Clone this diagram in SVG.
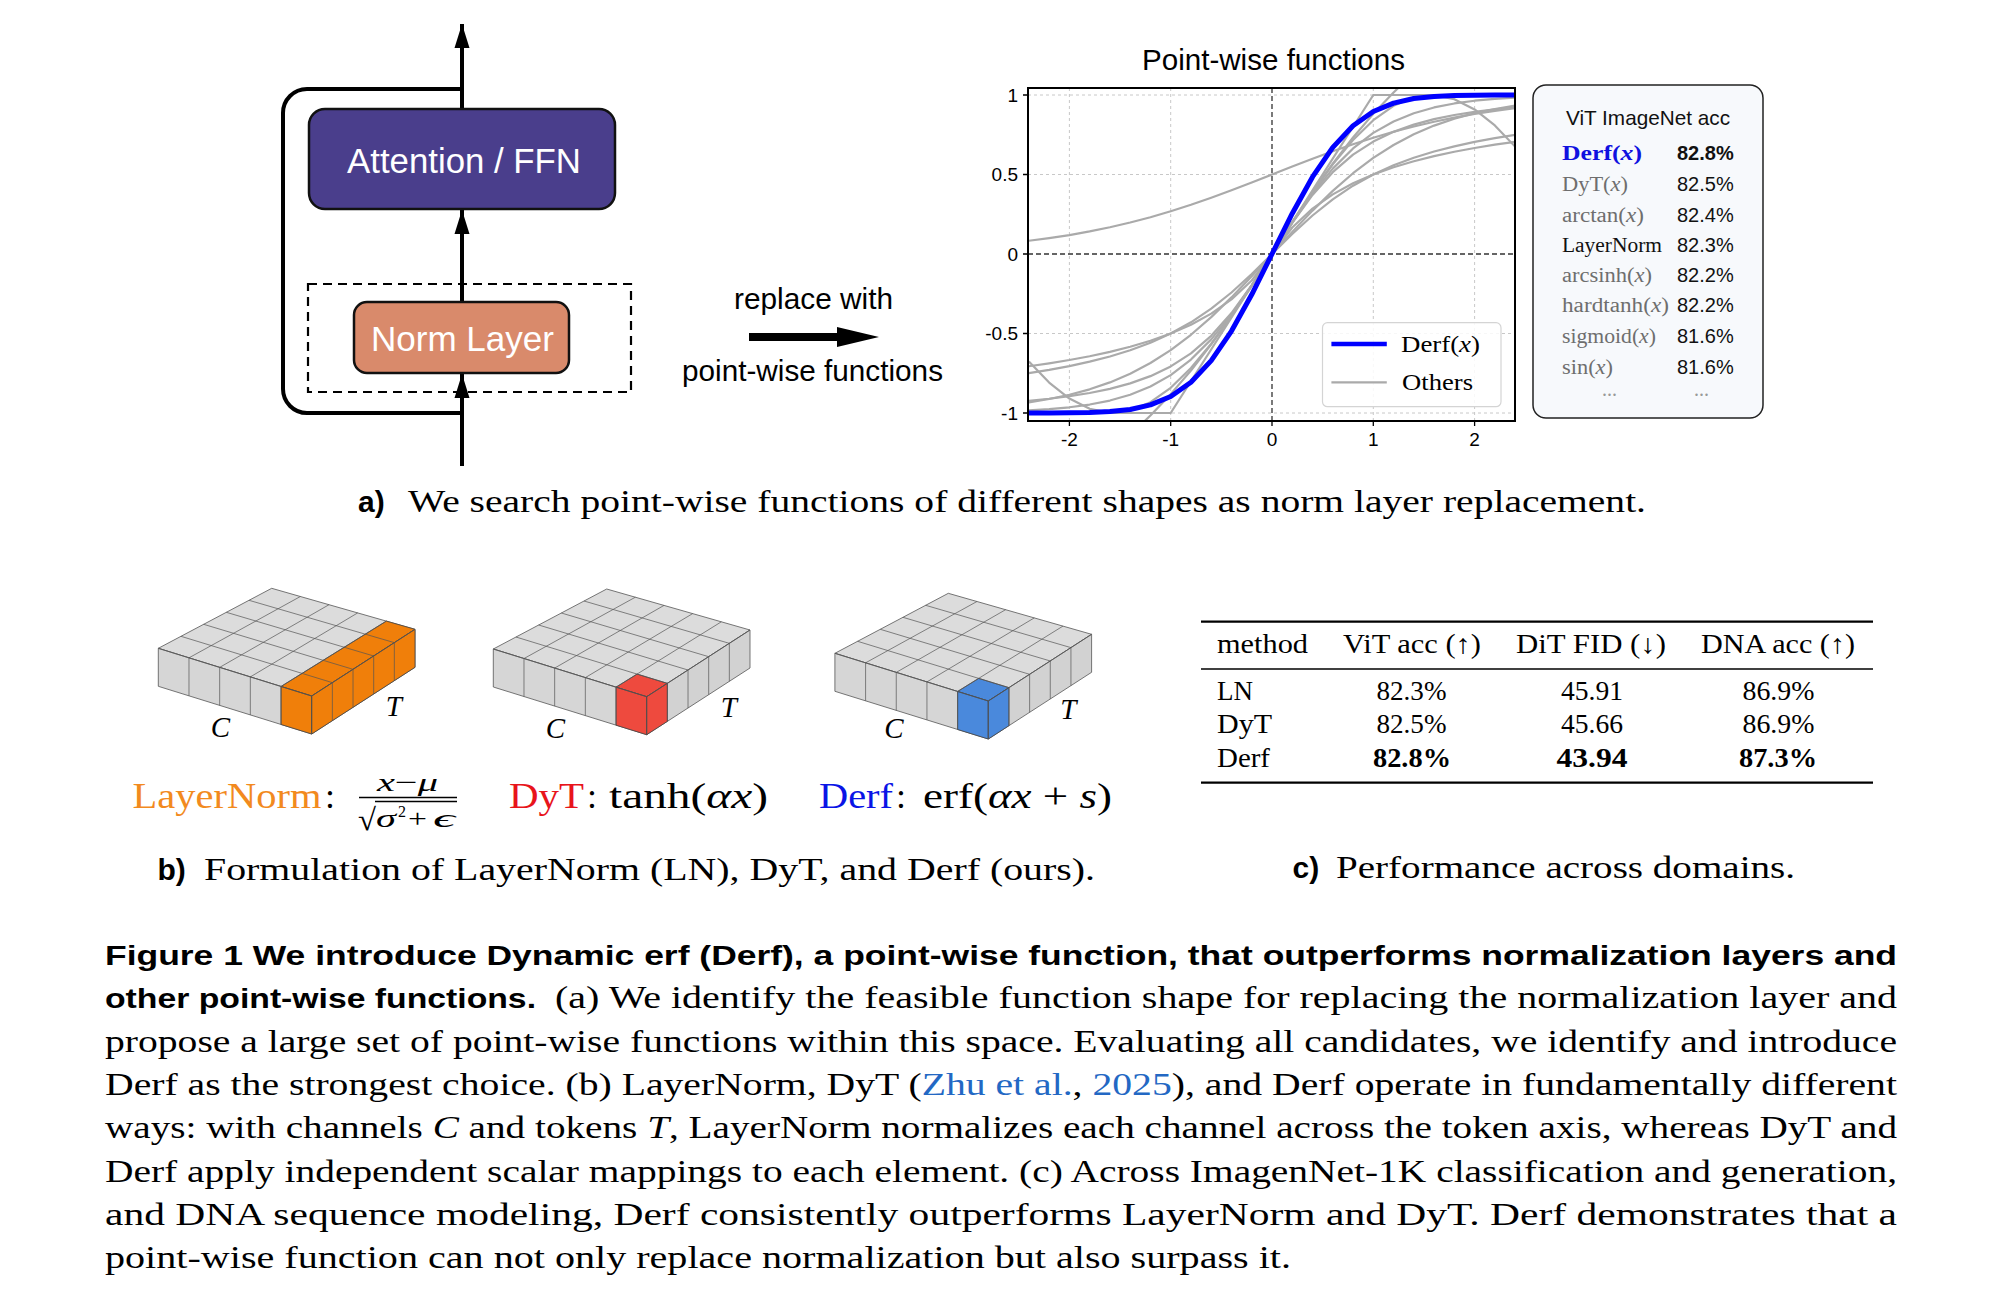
<svg xmlns="http://www.w3.org/2000/svg" width="1992" height="1310" viewBox="0 0 1992 1310">
<style>
.sans{font-family:"Liberation Sans",Arial,sans-serif}
.serif{font-family:"Liberation Serif","Times New Roman",serif}
.bold{font-weight:bold}
.it{font-style:italic}
.wline{fill:none;stroke:#000;stroke-width:4}
.box{stroke:#111;stroke-width:2.5}
.grid{stroke:#c8c8c8;stroke-width:1;stroke-dasharray:3 3}
.zero{stroke:#333;stroke-width:1.3;stroke-dasharray:5 3}
.tick{stroke:#000;stroke-width:1.3}
.ticklbl{font-family:"Liberation Sans",Arial,sans-serif;font-size:19px;fill:#000}
.gc{fill:none;stroke:#aaaaaa;stroke-width:2.2;stroke-linejoin:round}
.face{stroke:#555;stroke-width:0.8;stroke-linejoin:round}
.gl{stroke:#555;stroke-width:0.7;fill:none}
.vname{font-family:"Liberation Serif","Times New Roman",serif;font-size:20px;fill:#6e6e6e}
.vnum{font-family:"Liberation Sans",Arial,sans-serif;font-size:20px;fill:#111}
.tab{font-family:"Liberation Serif","Times New Roman",serif;font-size:27px;fill:#000}
.cap{font-family:"Liberation Serif","Times New Roman",serif;font-size:31px;fill:#000}
.capb{font-family:"Liberation Sans",Arial,sans-serif;font-size:28px;font-weight:bold;fill:#000}
.sub{font-family:"Liberation Serif","Times New Roman",serif;font-size:32px;fill:#000}
.subb{font-family:"Liberation Sans",Arial,sans-serif;font-size:30px;font-weight:bold;fill:#000}
.link{fill:#2368c4}
.lbl{font-family:"Liberation Serif","Times New Roman",serif;font-size:29px;font-style:italic;fill:#000}
.form{font-family:"Liberation Serif","Times New Roman",serif;font-size:36px;fill:#000}
.frac{font-family:"Liberation Serif","Times New Roman",serif;font-size:26px;fill:#000}
</style>
<defs>
<marker id="ah" markerUnits="userSpaceOnUse" markerWidth="26" markerHeight="16" refX="24" refY="8" orient="auto">
<path d="M0,0.5 L24,8 L0,15.5 z" fill="#000"/>
</marker>
<clipPath id="plotclip"><rect x="1028" y="88" width="487" height="333"/></clipPath>
<g id="slab">
<polygon class="face" fill="#dcdcdc" points="0,0 103.3,-66.7 -40,-107.7 -153.4,-47.7"/>
<polygon class="face" fill="#d6d6d6" points="0,0 -153.4,-47.7 -153.4,-9.7 0,38"/>
<polygon class="face" fill="#d2d2d2" points="0,0 103.3,-66.7 103.3,-28.7 0,38"/>
</g>
<g id="slabgrid">
<path class="gl" d="M-30.68,-9.54V28.46 M-61.36,-19.08V18.92 M-92.04,-28.62V9.38 M-122.72,-38.16V-0.16 M20.66,-13.34V24.66 M41.32,-26.68V11.32 M61.98,-40.02V-2.02 M82.64,-53.36V-15.36 M-30.68,-9.54L74.64,-74.9 M-61.36,-19.08L45.98,-83.1 M-92.04,-28.62L17.32,-91.3 M-122.72,-38.16L-11.34,-99.5 M20.66,-13.34L-130.72,-59.7 M41.32,-26.68L-108.04,-71.7 M61.98,-40.02L-85.36,-83.7 M82.64,-53.36L-62.68,-95.7"/>
<path class="gl" d="M0,0V38 M0,0L103.3,-66.7 M0,0L-153.4,-47.7"/>
</g>
</defs>
<rect width="1992" height="1310" fill="#fff"/>

<!-- Part a: block diagram -->
<g id="connectors">
<path class="wline" d="M462,413 H307 A24,24 0 0 1 283,389 V113 A24,24 0 0 1 307,89 H462"/>
<line class="wline" x1="462" y1="466" x2="462" y2="374" marker-end="url(#ah)"/>
<line class="wline" x1="462" y1="302" x2="462" y2="210" marker-end="url(#ah)"/>
<line class="wline" x1="462" y1="109" x2="462" y2="24" marker-end="url(#ah)"/>
</g>
<g id="norm-dashed">
<rect x="308" y="284" width="323" height="108" fill="none" stroke="#000" stroke-width="2.2" stroke-dasharray="9 6"/>
</g>
<g id="attention">
<rect class="box" x="309" y="109" width="306" height="100" rx="16" fill="#4a3e8c"/>
<text class="sans" x="347" y="173" font-size="35" fill="#fff" textLength="234" lengthAdjust="spacingAndGlyphs">Attention / FFN</text>
</g>
<g id="norm">
<rect class="box" x="354" y="302" width="215" height="71" rx="13" fill="#d98a6b"/>
<text class="sans" x="371" y="351" font-size="35" fill="#fff" textLength="183" lengthAdjust="spacingAndGlyphs">Norm Layer</text>
</g>
<g id="replace">
<text class="sans" x="734" y="309" font-size="30" fill="#000" textLength="159" lengthAdjust="spacingAndGlyphs">replace with</text>
<polygon points="749,333 837,333 837,327 879,337 837,347 837,341 749,341" fill="#000"/>
<text class="sans" x="682" y="381" font-size="30" fill="#000" textLength="261" lengthAdjust="spacingAndGlyphs">point-wise functions</text>
</g>

<!-- Plot -->
<g id="plot">
<text class="sans" x="1142" y="70" font-size="29" fill="#000" textLength="263" lengthAdjust="spacingAndGlyphs">Point-wise functions</text>
<g>
<line class="grid" x1="1069.4" y1="88" x2="1069.4" y2="421"/>
<line class="grid" x1="1170.7" y1="88" x2="1170.7" y2="421"/>
<line class="grid" x1="1373.3" y1="88" x2="1373.3" y2="421"/>
<line class="grid" x1="1474.6" y1="88" x2="1474.6" y2="421"/>
<line class="grid" x1="1028" y1="95" x2="1515" y2="95"/>
<line class="grid" x1="1028" y1="174.5" x2="1515" y2="174.5"/>
<line class="grid" x1="1028" y1="333.5" x2="1515" y2="333.5"/>
<line class="grid" x1="1028" y1="413" x2="1515" y2="413"/>
<line class="zero" x1="1272" y1="88" x2="1272" y2="421"/>
<line class="zero" x1="1028" y1="254" x2="1515" y2="254"/>
</g>
<g clip-path="url(#plotclip)">
<path class="gc" d="M1028.88,410.41 L1049.14,409.14 L1069.4,407.28 L1089.66,404.54 L1109.92,400.55 L1130.18,394.78 L1150.44,386.56 L1170.7,375.09 L1190.96,359.58 L1211.22,339.38 L1231.48,314.4 L1251.74,285.39 L1272,254 L1292.26,222.61 L1312.52,193.6 L1332.78,168.62 L1353.04,148.42 L1373.3,132.91 L1393.56,121.44 L1413.82,113.22 L1434.08,107.45 L1454.34,103.46 L1474.6,100.72 L1494.86,98.86 L1515.12,97.59"/>
<path class="gc" d="M1028.88,400.77 L1049.14,398.75 L1069.4,396.21 L1089.66,393 L1109.92,388.83 L1130.18,383.38 L1150.44,376.14 L1170.7,366.43 L1190.96,353.33 L1211.22,335.81 L1231.48,313.05 L1251.74,285.18 L1272,254 L1292.26,222.82 L1312.52,194.95 L1332.78,172.19 L1353.04,154.67 L1373.3,141.57 L1393.56,131.86 L1413.82,124.62 L1434.08,119.17 L1454.34,115 L1474.6,111.79 L1494.86,109.25 L1515.12,107.23"/>
<path class="gc" d="M1028.88,373.04 L1049.14,369.82 L1069.4,366.06 L1089.66,361.67 L1109.92,356.46 L1130.18,350.21 L1150.44,342.67 L1170.7,333.5 L1190.96,322.31 L1211.22,308.7 L1231.48,292.51 L1251.74,273.99 L1272,254 L1292.26,234.01 L1312.52,215.49 L1332.78,199.3 L1353.04,185.69 L1373.3,174.5 L1393.56,165.33 L1413.82,157.79 L1434.08,151.54 L1454.34,146.33 L1474.6,141.94 L1494.86,138.18 L1515.12,134.96"/>
<path class="gc" d="M1028.88,366.24 L1049.14,363.31 L1069.4,360 L1089.66,356.22 L1109.92,351.85 L1130.18,346.74 L1150.44,340.73 L1170.7,333.5 L1190.96,324.66 L1211.22,313.62 L1231.48,299.43 L1251.74,280.5 L1272,254 L1292.26,227.5 L1312.52,208.57 L1332.78,194.38 L1353.04,183.34 L1373.3,174.5 L1393.56,167.27 L1413.82,161.26 L1434.08,156.15 L1454.34,151.78 L1474.6,148 L1494.86,144.69 L1515.12,141.76"/>
<path class="gc" d="M1028.88,361.4 L1049.14,382.55 L1069.4,398.58 L1089.66,408.83 L1109.92,412.94 L1130.18,410.68 L1150.44,402.19 L1170.7,387.8 L1190.96,368.07 L1211.22,343.77 L1231.48,315.91 L1251.74,285.59 L1272,254 L1292.26,222.41 L1312.52,192.09 L1332.78,164.23 L1353.04,139.93 L1373.3,120.2 L1393.56,105.81 L1413.82,97.32 L1434.08,95.06 L1454.34,99.17 L1474.6,109.42 L1494.86,125.45 L1515.12,146.6"/>
<path class="gc" d="M1028.88,402.33 L1049.14,399.02 L1069.4,394.78 L1089.66,389.32 L1109.92,382.41 L1130.18,373.74 L1150.44,363.04 L1170.7,350.1 L1190.96,334.77 L1211.22,317.11 L1231.48,297.39 L1251.74,276.12 L1272,254 L1292.26,231.88 L1312.52,210.61 L1332.78,190.89 L1353.04,173.23 L1373.3,157.9 L1393.56,144.96 L1413.82,134.26 L1434.08,125.59 L1454.34,118.68 L1474.6,113.22 L1494.86,108.98 L1515.12,105.67"/>
<path class="gc" d="M1028.88,240.77 L1049.14,238.13 L1069.4,235.05 L1089.66,231.44 L1109.92,227.29 L1130.18,222.55 L1150.44,217.19 L1170.7,211.24 L1190.96,204.71 L1211.22,197.67 L1231.48,190.19 L1251.74,182.42 L1272,174.5 L1292.26,166.58 L1312.52,158.81 L1332.78,151.33 L1353.04,144.29 L1373.3,137.76 L1393.56,131.81 L1413.82,126.45 L1434.08,121.71 L1454.34,117.56 L1474.6,113.95 L1494.86,110.87 L1515.12,108.23"/>
<path class="gc" d="M1130.18,434.94 L1150.44,415.54 L1170.7,394.14 L1190.96,370.5 L1211.22,344.44 L1231.48,316 L1251.74,285.59 L1272,254 L1292.26,222.41 L1312.52,192 L1332.78,163.56 L1353.04,137.5 L1373.3,113.86 L1393.56,92.46 L1413.82,73.06"/>
<path class="gc" d="M1028.88,413 L1170.7,413 L1373.3,95 L1515.12,95"/>
<path fill="none" stroke="#0000ff" stroke-width="5" stroke-linejoin="round" d="M1028.88,412.98 L1049.14,412.95 L1069.4,412.83 L1089.66,412.44 L1109.92,411.51 L1130.18,409.47 L1150.44,404.89 L1170.7,396.48 L1190.96,382.28 L1211.22,360.66 L1231.48,331.07 L1251.74,294.55 L1272,254 L1292.26,213.45 L1312.52,176.93 L1332.78,147.34 L1353.04,125.72 L1373.3,111.52 L1393.56,103.11 L1413.82,98.53 L1434.08,96.49 L1454.34,95.56 L1474.6,95.17 L1494.86,95.05 L1515.12,95.02"/>
</g>
<rect x="1028" y="88" width="487" height="333" fill="none" stroke="#000" stroke-width="2"/>
<path class="tick" d="M1023,95H1028 M1023,174.5H1028 M1023,254H1028 M1023,333.5H1028 M1023,413H1028 M1069.4,421V426 M1170.7,421V426 M1272,421V426 M1373.3,421V426 M1474.6,421V426"/>
<g class="ticklbl" text-anchor="end">
<text x="1018" y="101.5">1</text>
<text x="1018" y="181">0.5</text>
<text x="1018" y="260.5">0</text>
<text x="1018" y="340">-0.5</text>
<text x="1018" y="419.5">-1</text>
</g>
<g class="ticklbl" text-anchor="middle">
<text x="1069.4" y="446">-2</text>
<text x="1170.7" y="446">-1</text>
<text x="1272" y="446">0</text>
<text x="1373.3" y="446">1</text>
<text x="1474.6" y="446">2</text>
</g>
<g id="legend">
<rect x="1322.5" y="322.7" width="178.5" height="84" rx="5" fill="#fff" fill-opacity="0.85" stroke="#d4d4d4" stroke-width="1.2"/>
<line x1="1331.4" y1="344" x2="1386.8" y2="344" stroke="#0000ff" stroke-width="4.5"/>
<line x1="1331.4" y1="382.3" x2="1386.8" y2="382.3" stroke="#aaaaaa" stroke-width="2.2"/>
<text class="serif" x="1401" y="352" font-size="23" textLength="79" lengthAdjust="spacingAndGlyphs">Derf(<tspan class="it">x</tspan>)</text>
<text class="serif" x="1402" y="390" font-size="23" textLength="71" lengthAdjust="spacingAndGlyphs">Others</text>
</g>
</g>

<!-- ViT box -->
<g id="vit-box">
<rect x="1533" y="85" width="230" height="333" rx="13" fill="#f7f9fc" stroke="#222" stroke-width="1.5"/>
<text class="sans" x="1566" y="125" font-size="21" fill="#111" textLength="164" lengthAdjust="spacingAndGlyphs">ViT ImageNet acc</text>
<text class="vname" x="1562" y="160" font-weight="bold" textLength="80" lengthAdjust="spacingAndGlyphs" style="fill:#1010e0">Derf(<tspan class="it">x</tspan>)</text>
<text class="vname" x="1562" y="191" textLength="66" lengthAdjust="spacingAndGlyphs">DyT(<tspan class="it">x</tspan>)</text>
<text class="vname" x="1562" y="222" textLength="82" lengthAdjust="spacingAndGlyphs">arctan(<tspan class="it">x</tspan>)</text>
<text class="vname" x="1562" y="252" textLength="100" lengthAdjust="spacingAndGlyphs" style="fill:#111">LayerNorm</text>
<text class="vname" x="1562" y="282" textLength="90" lengthAdjust="spacingAndGlyphs">arcsinh(<tspan class="it">x</tspan>)</text>
<text class="vname" x="1562" y="312" textLength="107" lengthAdjust="spacingAndGlyphs">hardtanh(<tspan class="it">x</tspan>)</text>
<text class="vname" x="1562" y="343" textLength="94" lengthAdjust="spacingAndGlyphs">sigmoid(<tspan class="it">x</tspan>)</text>
<text class="vname" x="1562" y="374" textLength="51" lengthAdjust="spacingAndGlyphs">sin(<tspan class="it">x</tspan>)</text>
<text class="vname" x="1602" y="396" font-size="13" style="fill:#999">...</text>
<text class="vname" x="1694" y="396" font-size="13" style="fill:#999">...</text>
<text class="vnum" x="1677" y="160" font-weight="bold">82.8%</text>
<text class="vnum" x="1677" y="191">82.5%</text>
<text class="vnum" x="1677" y="222">82.4%</text>
<text class="vnum" x="1677" y="252">82.3%</text>
<text class="vnum" x="1677" y="282">82.2%</text>
<text class="vnum" x="1677" y="312">82.2%</text>
<text class="vnum" x="1677" y="343">81.6%</text>
<text class="vnum" x="1677" y="374">81.6%</text>
</g>

<g id="caption-a">
<text class="subb" x="358" y="512">a)</text>
<text class="sub" x="408" y="512" textLength="1238" lengthAdjust="spacingAndGlyphs">We search point-wise functions of different shapes as norm layer replacement.</text>
</g>

<!-- Part b: blocks -->
<g id="block-ln" transform="translate(311.7,696)">
<use href="#slab"/>
<g fill="#f07f0a" stroke="#444" stroke-width="0.8">
<polygon points="0,0 103.3,-66.7 74.64,-74.9 -30.68,-9.54"/>
<polygon points="0,0 -30.68,-9.54 -30.68,28.46 0,38"/>
<polygon points="0,0 103.3,-66.7 103.3,-28.7 0,38"/>
</g>
<use href="#slabgrid"/>
<text class="lbl" x="-101" y="41">C</text>
<text class="lbl" x="74" y="20">T</text>
</g>
<g id="block-dyt" transform="translate(646.7,696.7)">
<use href="#slab"/>
<g fill="#ee4a3e" stroke="#444" stroke-width="0.8">
<polygon points="0,0 20.66,-13.34 -9.62,-22.61 -30.68,-9.54"/>
<polygon points="0,0 -30.68,-9.54 -30.68,28.46 0,38"/>
<polygon points="0,0 20.66,-13.34 20.66,24.66 0,38"/>
</g>
<use href="#slabgrid"/>
<text class="lbl" x="-101" y="41">C</text>
<text class="lbl" x="74" y="20">T</text>
</g>
<g id="block-derf" transform="translate(988.3,701)">
<use href="#slab"/>
<g fill="#4a89dc" stroke="#444" stroke-width="0.8">
<polygon points="0,0 20.66,-13.34 -9.62,-22.61 -30.68,-9.54"/>
<polygon points="0,0 -30.68,-9.54 -30.68,28.46 0,38"/>
<polygon points="0,0 20.66,-13.34 20.66,24.66 0,38"/>
</g>
<use href="#slabgrid"/>
<text class="lbl" x="-104" y="37">C</text>
<text class="lbl" x="72" y="18">T</text>
</g>

<g id="formulas">
<text class="form" x="132.5" y="808" textLength="189" lengthAdjust="spacingAndGlyphs" style="fill:#f28a1e">LayerNorm</text>
<text class="form" x="325" y="808">:</text>
<text class="frac" x="377" y="791" textLength="61" lengthAdjust="spacingAndGlyphs"><tspan class="it">x</tspan>−<tspan class="it">μ</tspan></text>
<line x1="359" y1="797.5" x2="457" y2="797.5" stroke="#000" stroke-width="1.5"/>
<line x1="375" y1="801.5" x2="457" y2="801.5" stroke="#000" stroke-width="1.3"/>
<text class="serif" x="358" y="830" font-size="31" textLength="18" lengthAdjust="spacingAndGlyphs">√</text>
<text class="frac it" x="376" y="827" textLength="20" lengthAdjust="spacingAndGlyphs">σ</text>
<text class="serif" x="398" y="817" font-size="16">2</text>
<text class="frac" x="408" y="827" textLength="19" lengthAdjust="spacingAndGlyphs">+</text>
<text class="frac it" x="433" y="827" textLength="22" lengthAdjust="spacingAndGlyphs">ϵ</text>
<text class="form" x="509" y="808" textLength="75" lengthAdjust="spacingAndGlyphs" style="fill:#e8141b">DyT</text>
<text class="form" x="587" y="808">:</text>
<text class="form" x="609" y="808" textLength="159" lengthAdjust="spacingAndGlyphs">tanh(<tspan class="it">αx</tspan>)</text>
<text class="form" x="819" y="808" textLength="74" lengthAdjust="spacingAndGlyphs" style="fill:#0a14e6">Derf</text>
<text class="form" x="896" y="808">:</text>
<text class="form" x="923" y="808" textLength="189" lengthAdjust="spacingAndGlyphs">erf(<tspan class="it">αx</tspan> + <tspan class="it">s</tspan>)</text>
</g>
<g id="caption-b">
<text class="subb" x="157.5" y="880">b)</text>
<text class="sub" x="204" y="880" textLength="891" lengthAdjust="spacingAndGlyphs">Formulation of LayerNorm (LN), DyT, and Derf (ours).</text>
</g>

<!-- Part c: table -->
<g id="table">
<line x1="1201" y1="621.7" x2="1873" y2="621.7" stroke="#000" stroke-width="2.2"/>
<line x1="1201" y1="669" x2="1873" y2="669" stroke="#000" stroke-width="1.4"/>
<line x1="1201" y1="782.7" x2="1873" y2="782.7" stroke="#000" stroke-width="2.2"/>
<text class="tab" x="1217" y="653" textLength="91" lengthAdjust="spacingAndGlyphs">method</text>
<text class="tab" x="1343" y="653" textLength="138" lengthAdjust="spacingAndGlyphs">ViT acc (↑)</text>
<text class="tab" x="1516" y="653" textLength="150" lengthAdjust="spacingAndGlyphs">DiT FID (↓)</text>
<text class="tab" x="1701" y="653" textLength="154" lengthAdjust="spacingAndGlyphs">DNA acc (↑)</text>
<text class="tab" x="1217" y="700" textLength="36" lengthAdjust="spacingAndGlyphs">LN</text>
<text class="tab" x="1217" y="733" textLength="55" lengthAdjust="spacingAndGlyphs">DyT</text>
<text class="tab" x="1217" y="767" textLength="53" lengthAdjust="spacingAndGlyphs">Derf</text>
<text class="tab" x="1376.5" y="700" textLength="70" lengthAdjust="spacingAndGlyphs">82.3%</text>
<text class="tab" x="1561" y="700" textLength="62" lengthAdjust="spacingAndGlyphs">45.91</text>
<text class="tab" x="1742.5" y="700" textLength="72" lengthAdjust="spacingAndGlyphs">86.9%</text>
<text class="tab" x="1376.5" y="733" textLength="70" lengthAdjust="spacingAndGlyphs">82.5%</text>
<text class="tab" x="1561" y="733" textLength="62" lengthAdjust="spacingAndGlyphs">45.66</text>
<text class="tab" x="1742.5" y="733" textLength="72" lengthAdjust="spacingAndGlyphs">86.9%</text>
<text class="tab bold" x="1373" y="767" textLength="78" lengthAdjust="spacingAndGlyphs">82.8%</text>
<text class="tab bold" x="1556.5" y="767" textLength="71" lengthAdjust="spacingAndGlyphs">43.94</text>
<text class="tab bold" x="1739" y="767" textLength="78" lengthAdjust="spacingAndGlyphs">87.3%</text>
</g>
<g id="caption-c">
<text class="subb" x="1292.5" y="878">c)</text>
<text class="sub" x="1336" y="878" textLength="459" lengthAdjust="spacingAndGlyphs">Performance across domains.</text>
</g>

<!-- Figure caption -->
<g id="figure-caption">
<text class="capb" x="105" y="965" textLength="1792" lengthAdjust="spacingAndGlyphs">Figure 1 We introduce Dynamic erf (Derf), a point-wise function, that outperforms normalization layers and</text>
<text class="capb" x="105" y="1008.3" textLength="431" lengthAdjust="spacingAndGlyphs">other point-wise functions.</text>
<text class="cap" x="555" y="1008.3" textLength="1342" lengthAdjust="spacingAndGlyphs">(a) We identify the feasible function shape for replacing the normalization layer and</text>
<text class="cap" x="105" y="1051.7" textLength="1792" lengthAdjust="spacingAndGlyphs">propose a large set of point-wise functions within this space. Evaluating all candidates, we identify and introduce</text>
<text class="cap" x="105" y="1095" textLength="1792" lengthAdjust="spacingAndGlyphs">Derf as the strongest choice. (b) LayerNorm, DyT (<tspan class="link">Zhu et al.</tspan>, <tspan class="link">2025</tspan>), and Derf operate in fundamentally different</text>
<text class="cap" x="105" y="1138.3" textLength="1792" lengthAdjust="spacingAndGlyphs">ways: with channels <tspan class="it">C</tspan> and tokens <tspan class="it">T</tspan>, LayerNorm normalizes each channel across the token axis, whereas DyT and</text>
<text class="cap" x="105" y="1181.7" textLength="1792" lengthAdjust="spacingAndGlyphs">Derf apply independent scalar mappings to each element. (c) Across ImagenNet-1K classification and generation,</text>
<text class="cap" x="105" y="1225" textLength="1792" lengthAdjust="spacingAndGlyphs">and DNA sequence modeling, Derf consistently outperforms LayerNorm and DyT. Derf demonstrates that a</text>
<text class="cap" x="105" y="1268.3" textLength="1186" lengthAdjust="spacingAndGlyphs">point-wise function can not only replace normalization but also surpass it.</text>
</g>
</svg>
